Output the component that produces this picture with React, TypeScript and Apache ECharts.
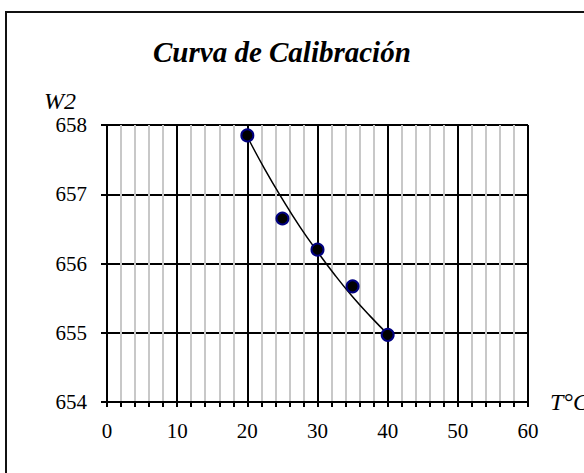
import React, { useEffect, useRef } from "react";
import * as echarts from "echarts";

const temperatures = [20, 25, 30, 35, 40];
const w2Values = [657.85, 656.65, 656.2, 655.67, 654.97];
const trendX = [20, 22.5, 25, 27.5, 30, 32.5, 35, 37.5, 40];
const trendY = [657.83, 657.36, 656.93, 656.53, 656.17, 655.83, 655.52, 655.24, 654.98];
const xTicks = [0, 10, 20, 30, 40, 50, 60];
const yTicks = [654, 655, 656, 657, 658];

const FONT = "Liberation Serif";

export default function App() {
  const ref = useRef<HTMLDivElement>(null);
  useEffect(() => {
    if (!ref.current) return;
    const chart = echarts.init(ref.current, null, { renderer: "svg" });
    chart.setOption({
      animation: false,
      backgroundColor: "#fff",
      title: {
        text: "Curva de Calibración",
        left: 148,
        top: 32,
        textStyle: { fontFamily: FONT, fontSize: 29, fontWeight: "bold", fontStyle: "italic", color: "#000" },
      },
      graphic: [
        {
          type: "rect",
          shape: { x: 6, y: 12, width: 620, height: 500 },
          style: { fill: "none", stroke: "#111", lineWidth: 2 },
          silent: true,
          z: -10,
        },
      ],
      grid: { left: 107, right: 56, top: 125, bottom: 71, outerBoundsMode: "none", containLabel: false },
      xAxis: {
        type: "value",
        min: xTicks[0],
        max: xTicks[xTicks.length - 1],
        interval: 10,
        name: "T°C",
        nameLocation: "end",
        nameGap: 22,
        nameTextStyle: { fontFamily: FONT, fontSize: 24, fontStyle: "italic", color: "#000", verticalAlign: "middle", padding: [0, 0, 14, 0] },
        axisLine: { show: true, onZero: false, lineStyle: { color: "#000", width: 2 } },
        axisTick: { show: true, length: 5, lineStyle: { color: "#000", width: 2 } },
        minorTick: { show: true, splitNumber: 5, length: 5, lineStyle: { color: "#000", width: 2 } },
        axisLabel: { fontFamily: FONT, fontSize: 21, color: "#000", margin: 18 },
        splitLine: { show: true, lineStyle: { color: "#000", width: 2 } },
        minorSplitLine: { show: true, lineStyle: { color: "#c8c8c8", width: 2 } },
      },
      yAxis: {
        type: "value",
        min: yTicks[0],
        max: yTicks[yTicks.length - 1],
        interval: 1,
        name: "W2",
        nameLocation: "end",
        nameGap: 12,
        nameTextStyle: { fontFamily: FONT, fontSize: 24, fontStyle: "italic", color: "#000", align: "right", padding: [0, 31, 0, 0] },
        axisLine: { show: true, onZero: false, lineStyle: { color: "#000", width: 2 } },
        axisTick: { show: true, length: 6, lineStyle: { color: "#000", width: 2 } },
        axisLabel: { fontFamily: FONT, fontSize: 21, color: "#000", margin: 20, padding: [10, 0, 0, 0] },
        splitLine: { show: true, lineStyle: { color: "#000", width: 2 } },
      },
      series: [
        {
          type: "line",
          data: trendX.map((x, i) => [x, trendY[i]]),
          smooth: true,
          showSymbol: false,
          lineStyle: { color: "#000", width: 1.5 },
          z: 3,
        },
        {
          type: "scatter",
          data: temperatures.map((t, i) => [t, w2Values[i]]),
          symbol: "circle",
          symbolSize: 12,
          itemStyle: { color: "#000", borderColor: "#000080", borderWidth: 2, opacity: 1 },
          z: 4,
        },
      ],
    });
    return () => chart.dispose();
  }, []);
  return <div ref={ref} style={{ position: "fixed", left: 0, top: 0, width: 584, height: 473 }} />;
}
